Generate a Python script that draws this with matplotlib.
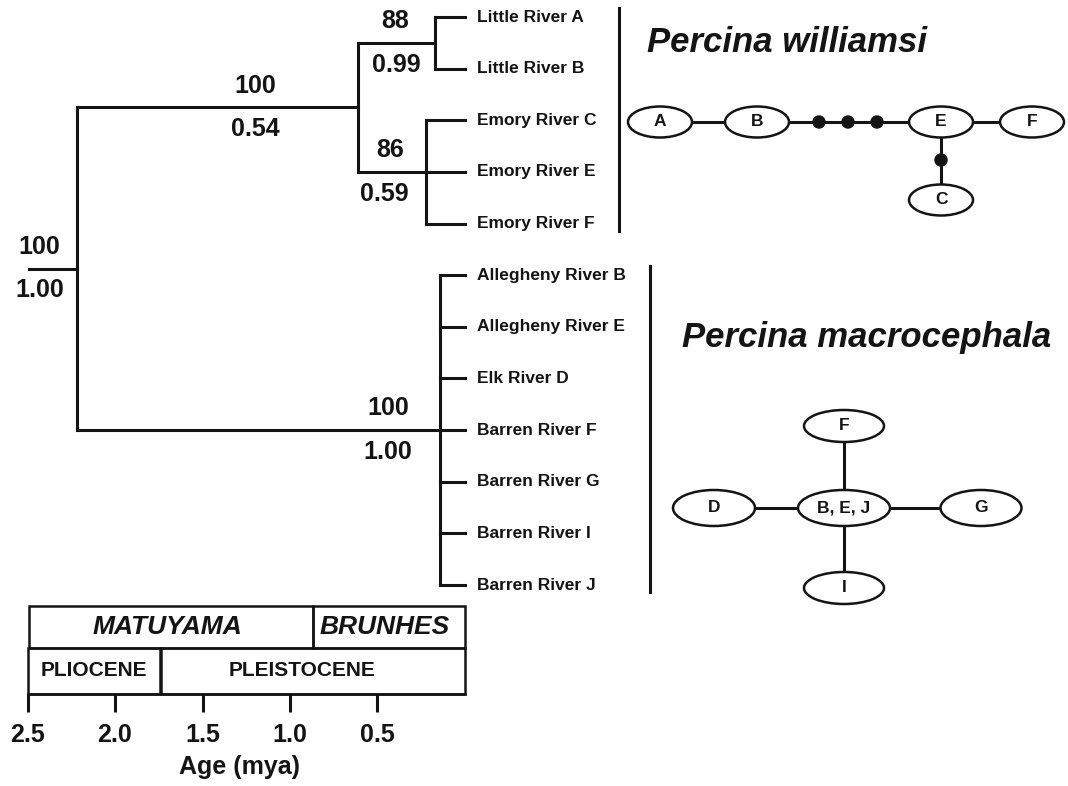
"""
Percina williamsi / P. macrocephala: dated tree, timescale and haplotype networks
"""
import numpy as np
import matplotlib
matplotlib.use("Agg")
import matplotlib.pyplot as plt
import matplotlib.transforms as mtransforms
from matplotlib.patches import Ellipse, Rectangle, Circle

plt.rcParams.update({"font.family": "Liberation Sans", "font.weight": "bold",
                     "axes.linewidth": 1.8})

# ── data ─────────────────────────────────────────────────────────────────────
LEAVES = ["Little River A", "Little River B", "Emory River C", "Emory River E",
          "Emory River F", "Allegheny River B", "Allegheny River E", "Elk River D",
          "Barren River F", "Barren River G", "Barren River I", "Barren River J"]

# nested clades: (node name, children); ints are leaf indices
TREE = ("root", [("williamsi", [("little", [0, 1]), ("emory", [2, 3, 4])]),
                 ("macro", [5, 6, 7, 8, 9, 10, 11])])
NODE_AGE = {"root": 2.22, "williamsi": 0.61, "little": 0.17, "emory": 0.22, "macro": 0.14}
ROOT_STEM_AGE = 2.49

BOOTSTRAP = {"root": "100", "williamsi": "100", "little": "88", "emory": "86", "macro": "100"}
POSTERIOR = {"root": "1.00", "williamsi": "0.54", "little": "0.99", "emory": "0.59", "macro": "1.00"}
BOOT_X = {"root": 2.43, "williamsi": 1.20, "little": 0.40, "emory": 0.43, "macro": 0.44}
POST_X = {"root": 2.43, "williamsi": 1.20, "little": 0.39, "emory": 0.46, "macro": 0.44}

SPECIES = ["Percina williamsi", "Percina macrocephala"]
SPECIES_LEAVES = [(0, 4), (5, 11)]

MAG_NAMES = ["MATUYAMA", "BRUNHES"]
MAG_BOUNDS = [2.49, 0.87, 0.0]
MAG_LABEL_X = [1.70, 0.46]
EPOCH_NAMES = ["PLIOCENE", "PLEISTOCENE"]
EPOCH_BOUNDS = [2.5, 1.74, 0.0]
EPOCH_LABEL_X = [2.12, 0.93]
AGE_TICKS = [2.5, 2.0, 1.5, 1.0, 0.5]

# haplotype networks (pixel layout)
NET1_NODES = {"A": (660, 122), "B": (757, 122), "E": (941, 122), "F": (1032, 122), "C": (941, 200)}
NET1_MISSING = [(819, 122), (848, 122), (877, 122), (941, 160)]
NET1_EDGES = [("A", "B"), ("B", "E"), ("E", "F"), ("E", "C")]
NET2_NODES = {"B, E, J": (844, 508, 92, 36), "F": (844, 426, 80, 32), "I": (844, 588, 80, 32),
              "D": (714, 508, 82, 36), "G": (981, 508, 81, 36)}
NET2_EDGES = [("B, E, J", "F"), ("B, E, J", "I"), ("B, E, J", "D"), ("B, E, J", "G")]

LW = 2.2
K = "#141414"

fig = plt.figure(figsize=(10.68, 7.86), dpi=100)

# ── tree on the age axis ────────────────────────────────────────────────────
ax = fig.add_axes([0, 1 - 694 / 786, 1, 694 / 786])
ax.set_xlim(465 / 175, (465 - 1068) / 175)
ax.set_ylim((694 - 17) / 51.64, -17 / 51.64)
node_y = {}

def draw(node):
    if isinstance(node, int):
        return 0.0, float(node)
    name, kids = node
    a = NODE_AGE[name]
    pts = [draw(k) for k in kids]
    ys = [p[1] for p in pts]
    for ca, cy in pts:
        ax.plot([a, ca], [cy, cy], color=K, lw=LW, solid_capstyle="projecting")
    ax.plot([a, a], [min(ys), max(ys)], color=K, lw=LW, solid_capstyle="projecting")
    node_y[name] = (min(ys) + max(ys)) / 2
    return a, node_y[name]

ra, ry = draw(TREE)
ax.plot([ROOT_STEM_AGE, ra], [ry, ry], color=K, lw=LW, solid_capstyle="projecting")

for name in NODE_AGE:
    ax.text(BOOT_X[name], node_y[name] - 0.42, BOOTSTRAP[name], ha="center", va="center",
            fontsize=18, color=K)
    ax.text(POST_X[name], node_y[name] + 0.42, POSTERIOR[name], ha="center", va="center",
            fontsize=18, color=K)

for i, leaf in enumerate(LEAVES):
    ax.text(-0.069, i, leaf, ha="left", va="center", fontsize=12.5, color=K)

for (lo, hi), bx in zip(SPECIES_LEAVES, [-0.88, -1.06]):
    ax.plot([bx, bx], [lo - 0.17, hi + 0.14], color=K, lw=LW)

# timescale boxes
blend = mtransforms.blended_transform_factory(ax.transData, ax.transAxes)
rows = [(MAG_NAMES, MAG_BOUNDS, MAG_LABEL_X, 1 - 648 / 694, 1 - 606 / 694, 19, "italic"),
        (EPOCH_NAMES, EPOCH_BOUNDS, EPOCH_LABEL_X, 0.0, 1 - 648 / 694, 15, "normal")]
for names, bounds, lx, y0, y1, fs, style in rows:
    for nm, left, right, tx in zip(names, bounds[:-1], bounds[1:], lx):
        ax.add_patch(Rectangle((left, y0), right - left, y1 - y0, transform=blend,
                               fill=False, edgecolor=K, lw=1.8, clip_on=False))
        ax.text(tx, (y0 + y1) / 2, nm, transform=blend, ha="center",
                va="center", fontsize=fs, style=style, color=K)

for s in ["top", "right", "left"]:
    ax.spines[s].set_visible(False)
ax.spines["bottom"].set_bounds(AGE_TICKS[0], 0)
ax.spines["bottom"].set_color(K)
ax.set_yticks([])
ax.set_xticks(AGE_TICKS)
ax.set_xticklabels([f"{t:.1f}" for t in AGE_TICKS], fontsize=18, color=K)
ax.tick_params(axis="x", direction="out", length=13, width=2.2, pad=8, color=K)
ax.text(1.29, 1 - 767 / 694, "Age (mya)", transform=blend, ha="center", va="center",
        fontsize=18, color=K)
ax.patch.set_visible(False)

# ── haplotype networks ─────────────────────────────────────────────────────
ax2 = fig.add_axes([0, 0, 1, 1])
ax2.set_xlim(0, 1068)
ax2.set_ylim(786, 0)
ax2.axis("off")
ax2.patch.set_visible(False)

for sp, cx, cy in zip(SPECIES, [787, 867], [42, 338]):
    ax2.text(cx, cy, sp, ha="center", va="center", fontsize=25, style="italic", color=K)

for a, b in NET1_EDGES:
    (x0, y0), (x1, y1) = NET1_NODES[a], NET1_NODES[b]
    ax2.plot([x0, x1], [y0, y1], color=K, lw=LW, zorder=1)
for nm, (x, y) in NET1_NODES.items():
    ax2.add_patch(Ellipse((x, y), 64, 31, facecolor="white", edgecolor=K, lw=1.8, zorder=2))
    ax2.text(x, y, nm, ha="center", va="center", fontsize=12.5, color=K, zorder=3)
for x, y in NET1_MISSING:
    ax2.add_patch(Circle((x, y), 6, color=K, zorder=3))

for a, b in NET2_EDGES:
    x0, y0 = NET2_NODES[a][:2]
    x1, y1 = NET2_NODES[b][:2]
    ax2.plot([x0, x1], [y0, y1], color=K, lw=LW, zorder=1)
for nm, (x, y, w, h) in NET2_NODES.items():
    ax2.add_patch(Ellipse((x, y), w, h, facecolor="white", edgecolor=K, lw=1.8, zorder=2))
    ax2.text(x, y, nm, ha="center", va="center", fontsize=12.5, color=K, zorder=3)

fig.savefig("out.png", dpi=100)
